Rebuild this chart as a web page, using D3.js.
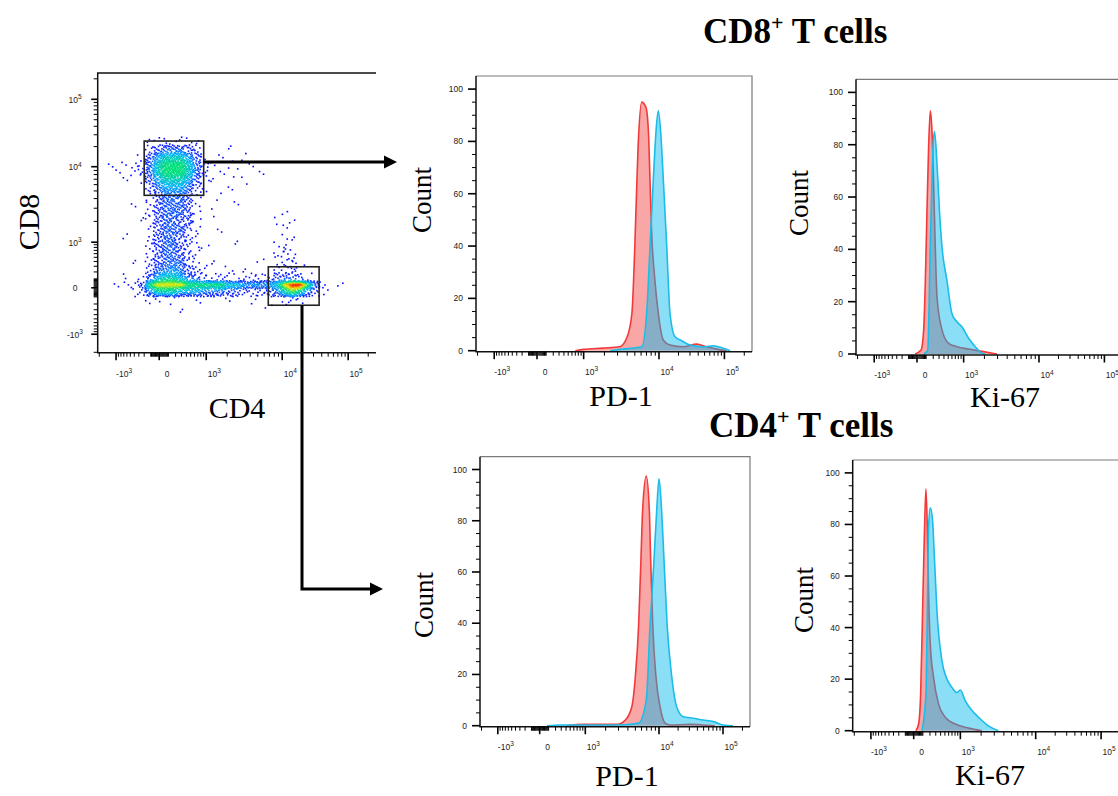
<!DOCTYPE html>
<html>
<head>
<meta charset="utf-8">
<script src="https://cdn.jsdelivr.net/npm/d3@7"></script>
<style>
  body { margin: 0; background: #fff; }
  svg { display: block; }
</style>
</head>
<body>
<svg id="fig" width="1118" height="796"></svg>
<script>
// ---- data ----
// biexponential axis: decade ticks and their labels
const decadeTicks = [-1000, 0, 1000, 10000, 100000];
const decadeLabels = [['-10', '3'], ['0', ''], ['10', '3'], ['10', '4'], ['10', '5']];
const countTicks = [0, 20, 40, 60, 80, 100];

// histograms: [intensity, count] ; ctrl = red, stim = cyan
const cd8Pd1Ctrl = [[700, 0], [1000, 0.5], [1900, 1], [3200, 1.5], [4000, 5.3], [4600, 14.4], [5000, 39.7], [5500, 78], [6100, 95], [6900, 93], [7400, 84], [7750, 65], [8100, 46], [8900, 27], [9800, 14.4], [11700, 4], [14800, 2.2], [23700, 1.5], [38000, 2.5], [54000, 1.5], [76000, 0.6], [108000, 0]];
const cd8Pd1Stim = [[2400, 0], [3200, 0.5], [6100, 1.5], [7050, 14.4], [7750, 39.7], [8500, 65], [9200, 84], [9800, 91.7], [10600, 84], [11700, 65], [13200, 39.7], [14800, 14.4], [17700, 5.3], [22400, 3.8], [30000, 2.2], [47800, 1.5], [68000, 1.9], [81000, 1.5], [122000, 0]];
const cd8Ki67Ctrl = [[-20, 0], [40, 1.5], [70, 9.2], [90, 28], [110, 54], [132, 79], [156, 93], [180, 85.5], [205, 66], [233, 41], [262, 22], [358, 9.2], [509, 4.1], [754, 2.8], [1260, 1.8], [1940, 0.9], [2940, 0]];
const cd8Ki67Stim = [[70, 0], [120, 1.5], [156, 41], [180, 66], [196, 79], [221, 85], [262, 73], [310, 54], [358, 41], [470, 28], [600, 15.5], [754, 12.3], [930, 10.4], [1190, 6], [1490, 2.8], [1850, 0.3], [2050, 0]];
const cd4Pd1Ctrl = [[420, 0], [920, 0.5], [2900, 0.5], [3700, 2.2], [4500, 7.4], [5000, 19.2], [5500, 38.7], [5900, 64.8], [6200, 84], [6900, 97.4], [7550, 84], [7850, 64.8], [8350, 38.7], [9150, 19.2], [10400, 7.4], [12500, 1], [14900, 0.3], [30700, 0.5], [49000, 0.3], [75000, 0]];
const cd4Pd1Stim = [[80, 0], [280, 0.3], [1700, 0.3], [3700, 0.4], [5500, 1], [6900, 10], [7700, 38.7], [8650, 64.8], [9350, 84], [10000, 96.4], [11000, 84], [12000, 64.8], [13500, 38.7], [15900, 19.2], [19000, 7.4], [24100, 3.5], [34600, 2.9], [49500, 2.2], [70700, 1.6], [101000, 0.3], [143000, 0]];
const cd4Ki67Ctrl = [[22, 0], [50, 2.6], [73, 14], [97, 46.5], [122, 79], [141, 93.7], [160, 79], [179, 53], [205, 33.6], [260, 20.7], [356, 10.3], [509, 5.2], [808, 2.6], [1330, 1], [2050, 0]];
const cd4Ki67Stim = [[89, 0], [141, 14.2], [164, 53], [179, 78.8], [205, 86.5], [243, 81.4], [278, 65.9], [323, 46.5], [429, 27.1], [554, 20], [698, 16.8], [868, 14.8], [1000, 15.8], [1190, 11.6], [1490, 7.8], [1840, 5.2], [2510, 1.9], [3400, 0]];

// CD4 x CD8 dot plot: event density per bin (0-9), rows top->bottom, cols left->right
const cd4cd8Density = [
  '', '', '', '', '', '', '', '',
  '0000001111111',
  '00000023444320001',
  '0000013566653101001',
  '01011246777642101001',
  '001012467776420101001',
  '0001013566653110001',
  '00000024555421001',
  '0000001344431001',
  '000010134443100001',
  '000000234443101000000001',
  '0000011344331000000000101',
  '000000134442100100000001',
  '0001001344321000000000011',
  '000000234432110001000011',
  '0000001344321000000000121',
  '0000102344421010000010112',
  '00000024454321001010001221',
  '000101356654321211121233321',
  '0011137888877777665555689974101',
  '00001246665554443322234676421',
  '00000011010010001001000121',
  '0000000000100000000001',
  '', '', '', '', ''
];
const dotsPerLevel = [0, 2, 5, 10, 16, 23, 31, 40, 48, 56];

// gates in data units
const cd8Gate = { cd4: [-200, 900], cd8: [4400, 24200] };
const cd4Gate = { cd4: [6750, 36500], cd8: [-220, 290] };

// ---- helpers ----
const serif = '"Liberation Serif", "Times New Roman", serif';
const sans = '"Liberation Sans", Arial, sans-serif';
const C = 300;
const tf = v => Math.sign(v) * Math.log10(1 + Math.abs(v) / C);
const histFracs = [0.066, 0.221, 0.39, 0.663, 0.90];
const dotYFracs = [0.066, 0.232, 0.395, 0.665, 0.906];

function biex(fracs, a, b) {
  const lin = d3.scaleLinear()
    .domain(decadeTicks.map(tf))
    .range(fracs.map(f => a + f * (b - a)));
  return v => lin(tf(v));
}

const minorTicks = [];
[-1, 1].forEach(s => {
  for (let k = 1; k <= 9; k++) minorTicks.push(s * k * 10, s * k * 100);
  for (let k = 2; k <= 9; k++) minorTicks.push(s * k * 1000, s * k * 10000, s * k * 100000);
});

function decadeText(sel) {
  sel.each(function(d, i) {
    const t = d3.select(this);
    t.text(decadeLabels[i][0]);
    if (decadeLabels[i][1]) t.append('tspan').attr('dy', -3.5).attr('font-size', 6.5).text(decadeLabels[i][1]);
  });
}

// horizontal biex axis, ticks pointing down
function biexAxisX(g, sx, yAxis, x0, x1, labelDy) {
  const minors = minorTicks.filter(v => sx(v) >= x0 && sx(v) <= x1);
  g.append('g').selectAll('line').data(minors).join('line')
    .attr('x1', d => sx(d)).attr('x2', d => sx(d))
    .attr('y1', yAxis).attr('y2', yAxis + 4)
    .attr('stroke', '#000').attr('stroke-width', 1);
  g.append('g').selectAll('line').data(decadeTicks).join('line')
    .attr('x1', d => sx(d)).attr('x2', d => sx(d))
    .attr('y1', yAxis).attr('y2', yAxis + 7.5)
    .attr('stroke', '#000').attr('stroke-width', 1.6);
  g.append('g').selectAll('text').data(decadeTicks).join('text')
    .attr('x', d => sx(d) + 8).attr('y', yAxis + labelDy)
    .attr('text-anchor', 'middle')
    .attr('font-family', sans).attr('font-size', 8.5).attr('fill', '#222')
    .call(decadeText);
}

// vertical biex axis, ticks pointing left
function biexAxisY(g, sy, xAxis, y0, y1, labelX) {
  const minors = minorTicks.filter(v => sy(v) <= y0 && sy(v) >= y1);
  g.append('g').selectAll('line').data(minors).join('line')
    .attr('y1', d => sy(d)).attr('y2', d => sy(d))
    .attr('x1', xAxis - 4).attr('x2', xAxis)
    .attr('stroke', '#000').attr('stroke-width', 1);
  g.append('g').selectAll('line').data(decadeTicks).join('line')
    .attr('y1', d => sy(d)).attr('y2', d => sy(d))
    .attr('x1', xAxis - 6.5).attr('x2', xAxis)
    .attr('stroke', '#000').attr('stroke-width', 1.6);
  g.append('g').selectAll('text').data(decadeTicks).join('text')
    .attr('x', labelX).attr('y', d => sy(d) + 3.5)
    .attr('text-anchor', 'middle')
    .attr('font-family', sans).attr('font-size', 8.5).attr('fill', '#222')
    .call(decadeText);
}

const svg = d3.select('#fig');
svg.append('rect').attr('width', 1118).attr('height', 796).attr('fill', '#fff');

// ---- dot plot ----
const dp = { left: 97.7, top: 73, right: 376, bottom: 352.7 };
const dx = biex(histFracs, dp.left, dp.right);
const dy = biex(dotYFracs, dp.bottom, dp.top);
const dotG = svg.append('g');

const nRows = cd4cd8Density.length, nCols = 35;
const grid = cd4cd8Density.map(r => r.padEnd(nCols, '0'));
const level = (r, c) => (r >= 0 && r < nRows && c >= 0 && c < nCols) ? +grid[r][c] : 0;
const gx = d3.scaleLinear().domain([0, nCols]).range([dp.left, dp.right]);
const gy = d3.scaleLinear().domain([0, nRows]).range([dp.top, dp.bottom]);
function smoothLevel(u, w) {
  const cu = u - 0.5, rw = w - 0.5;
  const c0 = Math.floor(cu), r0 = Math.floor(rw);
  const fu = cu - c0, fw = rw - r0;
  return level(r0, c0) * (1 - fu) * (1 - fw) + level(r0, c0 + 1) * fu * (1 - fw) +
         level(r0 + 1, c0) * (1 - fu) * fw + level(r0 + 1, c0 + 1) * fu * fw;
}
function halton(i, b) {
  let f = 1, r = 0;
  while (i > 0) { f /= b; r += f * (i % b); i = Math.floor(i / b); }
  return r;
}
const events = [];
let hi = 1;
for (let r = 0; r < nRows; r++) {
  for (let c = 0; c < nCols; c++) {
    const n = dotsPerLevel[level(r, c)];
    for (let k = 0; k < n; k++, hi++) {
      const u = c + halton(hi, 2), w = r + halton(hi, 3);
      events.push({ u, w, d: Math.max(smoothLevel(u, w), level(r, c) * 0.55) });
    }
  }
}
events.sort((a, b) => a.d - b.d);
const densColor = d3.scaleLinear()
  .domain([0, 3.5, 5.3, 7, 8, 9])
  .range(['#0000ff', '#0a28ff', '#00b0ff', '#00e07a', '#e8e800', '#ff2000'])
  .clamp(true);
dotG.selectAll('rect').data(events).join('rect')
  .attr('x', d => gx(d.u) - 0.8).attr('y', d => gy(d.w) - 0.8)
  .attr('width', 1.6).attr('height', 1.6)
  .attr('fill', d => densColor(d.d));

// frame
svg.append('path')
  .attr('d', `M${dp.right},${dp.top}H${dp.left}V${dp.bottom}H${dp.right}`)
  .attr('fill', 'none').attr('stroke', '#111').attr('stroke-width', 1.5);
biexAxisX(svg.append('g'), dx, dp.bottom, dp.left, dp.right, 24);
biexAxisY(svg.append('g'), dy, dp.left, dp.bottom, dp.top, 75);

// gates
[cd8Gate, cd4Gate].forEach(gt => {
  svg.append('rect')
    .attr('x', dx(gt.cd4[0])).attr('y', dy(gt.cd8[1]))
    .attr('width', dx(gt.cd4[1]) - dx(gt.cd4[0]))
    .attr('height', dy(gt.cd8[0]) - dy(gt.cd8[1]))
    .attr('fill', 'none').attr('stroke', '#222').attr('stroke-width', 1.6);
});

svg.append('text').attr('x', 237).attr('y', 418).attr('text-anchor', 'middle')
  .attr('font-family', serif).attr('font-size', 30).text('CD4');
svg.append('text').attr('transform', 'translate(28,222) rotate(-90)').attr('dy', '0.35em')
  .attr('text-anchor', 'middle').attr('font-family', serif).attr('font-size', 30).text('CD8');

// arrows
const arrowW = 3;
function arrowHead(xTip, y) {
  svg.append('path')
    .attr('d', `M${xTip},${y}L${xTip - 13},${y - 6.5}L${xTip - 13},${y + 6.5}Z`)
    .attr('fill', '#000');
}
const a1y = 162;
svg.append('path').attr('d', `M${dx(cd8Gate.cd4[1])},${a1y}H${386}`)
  .attr('stroke', '#000').attr('stroke-width', arrowW).attr('fill', 'none');
arrowHead(397, a1y);
const a2x = 302, a2y = 589;
svg.append('path').attr('d', `M${a2x},${dy(cd4Gate.cd8[0])}V${a2y}H${372}`)
  .attr('stroke', '#000').attr('stroke-width', arrowW).attr('fill', 'none');
arrowHead(383, a2y);

// ---- histograms ----
const panels = [
  { left: 476, top: 76, w: 276, h: 275.7, ctrl: cd8Pd1Ctrl, stim: cd8Pd1Stim, label: 'PD-1', lx: 621, ly: 406, cx: 422, cy: 200 },
  { left: 856, top: 79.3, w: 276, h: 275.7, ctrl: cd8Ki67Ctrl, stim: cd8Ki67Stim, label: 'Ki-67', lx: 1005, ly: 407, cx: 799, cy: 203 },
  { left: 480, top: 456.7, w: 270, h: 270, ctrl: cd4Pd1Ctrl, stim: cd4Pd1Stim, label: 'PD-1', lx: 627, ly: 786, cx: 424, cy: 605 },
  { left: 852.7, top: 460, w: 276, h: 271.7, ctrl: cd4Ki67Ctrl, stim: cd4Ki67Stim, label: 'Ki-67', lx: 990, ly: 785, cx: 804, cy: 600 }
];

panels.forEach(p => {
  const bottom = p.top + p.h;
  const right = p.left + p.w;
  const x = biex(histFracs, p.left, right);
  const y = d3.scaleLinear().domain([0, 105]).range([bottom - 1, p.top]);
  const g = svg.append('g');

  g.append('path').attr('d', `M${p.left},${p.top}H${right}V${bottom}`)
    .attr('fill', 'none').attr('stroke', '#7a7a7a').attr('stroke-width', 1.2);

  const area = d3.area().curve(d3.curveMonotoneX)
    .x(d => x(d[0])).y0(y(0)).y1(d => y(d[1]));
  const line = d3.line().curve(d3.curveMonotoneX)
    .x(d => x(d[0])).y(d => y(d[1]));

  g.append('path').attr('d', area(p.ctrl)).attr('fill', '#f8a6a6');
  g.append('path').attr('d', line(p.ctrl)).attr('fill', 'none')
    .attr('stroke', '#f23a3a').attr('stroke-width', 1.6);
  g.append('path').attr('d', area(p.stim)).attr('fill', 'rgb(0,186,238)')
    .attr('fill-opacity', 0.46);
  g.append('path').attr('d', line(p.stim)).attr('fill', 'none')
    .attr('stroke', '#1bbce9').attr('stroke-width', 1.6);

  g.append('path').attr('d', `M${p.left},${p.top}V${bottom}H${right}`)
    .attr('fill', 'none').attr('stroke', '#111').attr('stroke-width', 1.5);

  // count axis
  const cMinor = d3.range(0, 101, 5);
  g.append('g').selectAll('line').data(cMinor).join('line')
    .attr('y1', d => y(d)).attr('y2', d => y(d))
    .attr('x1', d => p.left - (d % 20 === 0 ? 8 : 4)).attr('x2', p.left)
    .attr('stroke', '#000').attr('stroke-width', d => d % 20 === 0 ? 1.6 : 1);
  g.append('g').selectAll('text').data(countTicks).join('text')
    .attr('x', p.left - 13).attr('y', d => y(d) + 3)
    .attr('text-anchor', 'end')
    .attr('font-family', sans).attr('font-size', 8.5).attr('fill', '#222')
    .text(d => d);

  biexAxisX(g, x, bottom, p.left, right, 23);

  g.append('text').attr('transform', `translate(${p.cx},${p.cy}) rotate(-90)`).attr('dy', '0.35em')
    .attr('text-anchor', 'middle').attr('font-family', serif).attr('font-size', 27).text('Count');
  g.append('text').attr('x', p.lx).attr('y', p.ly).attr('text-anchor', 'middle')
    .attr('font-family', serif).attr('font-size', 30).text(p.label);
});

// titles
function title(x, y, name) {
  const t = svg.append('text').attr('x', x).attr('y', y)
    .attr('font-family', serif).attr('font-size', 35).attr('font-weight', 'bold');
  t.append('tspan').text(name);
  t.append('tspan').attr('dy', -13).attr('font-size', 22).text('+');
  t.append('tspan').attr('dy', 13).text(' T cells');
}
title(703, 43, 'CD8');
title(709, 437, 'CD4');
</script>
</body>
</html>
